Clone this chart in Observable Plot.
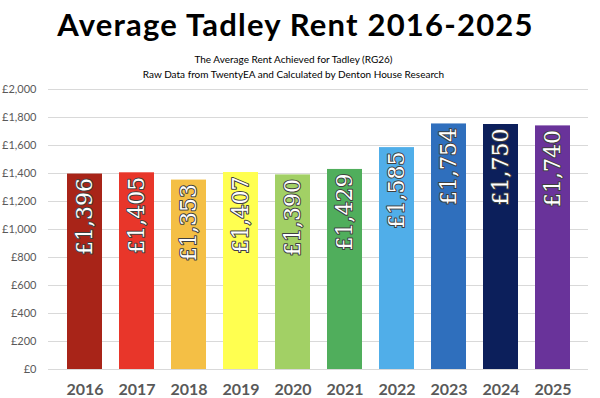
<!DOCTYPE html>
<html><head><meta charset="utf-8">
<script src="https://cdn.jsdelivr.net/npm/d3@7"></script>
<script src="https://cdn.jsdelivr.net/npm/@observablehq/plot@0.6"></script>
<style>
body{margin:0;background:#fff;width:600px;height:398px;overflow:hidden;font-family:Lato,sans-serif;position:relative}
#hdr{position:relative;height:70px;z-index:1}
#title{position:absolute;left:0;width:591px;top:8.5px;text-align:center;font-weight:700;font-size:31px;line-height:31px;letter-spacing:1.2px;color:#000;white-space:nowrap}
#sub{position:absolute;left:0;width:587px;top:52px;text-align:center;font-size:10px;line-height:15px;color:#000;white-space:nowrap}
svg{display:block;overflow:visible}
</style></head>
<body>
<div id="hdr">
  <div id="title">Average Tadley Rent 2016-2025</div>
  <div id="sub">The Average Rent Achieved for Tadley (RG26)<br>Raw Data from TwentyEA and Calculated by Denton House Research</div>
</div>
<div id="chart"></div>
<script>
const years = ["2016","2017","2018","2019","2020","2021","2022","2023","2024","2025"];
const rents = [1396,1405,1353,1407,1390,1429,1585,1754,1750,1740];
const colors = ["#a82418","#e8362a","#f4bf45","#ffff50","#a2d065","#50ae5c","#50aee9","#2f6fbd","#0c1f5b","#69339a"];
const yTicks = [0,200,400,600,800,1000,1200,1400,1600,1800,2000];

const data = years.map((y,i)=>({year:y, rent:rents[i], color:colors[i]}));
const money = d => "£" + d3.format(",")(d);

const chart = Plot.plot({
  width: 600, height: 328,
  marginTop: 19, marginBottom: 29, marginLeft: 48, marginRight: 12,
  x: {domain: years, padding: 0.33, label: null, axis: null},
  y: {domain: [0, 2000], label: null, axis: null},
  marks: [
    Plot.gridY(yTicks, {stroke: "#d9d9d9", strokeOpacity: 1, strokeWidth: 1}),
    Plot.barY(data, {x: "year", y: "rent", fill: "color"}),
    Plot.axisY(yTicks, {tickFormat: money, tickSize: 0, tickPadding: 12, fontSize: 11, fill: "#595959", fontFamily: "Lato", label: null}),
    Plot.axisX(years, {tickSize: 0, tickPadding: 14, fontSize: 16, fontWeight: "bold", fill: "#595959", fontFamily: "Lato", label: null}),
    Plot.text(data, {x: "year", y: "rent", text: d => money(d.rent), rotate: -90, textAnchor: "end", dy: 4,
      fill: "white", stroke: "#404040", strokeWidth: 2, paintOrder: "stroke", fontSize: 22, fontFamily: "DejaVu Serif"})
  ]
});
document.getElementById("chart").append(chart);
</script>
</body></html>
